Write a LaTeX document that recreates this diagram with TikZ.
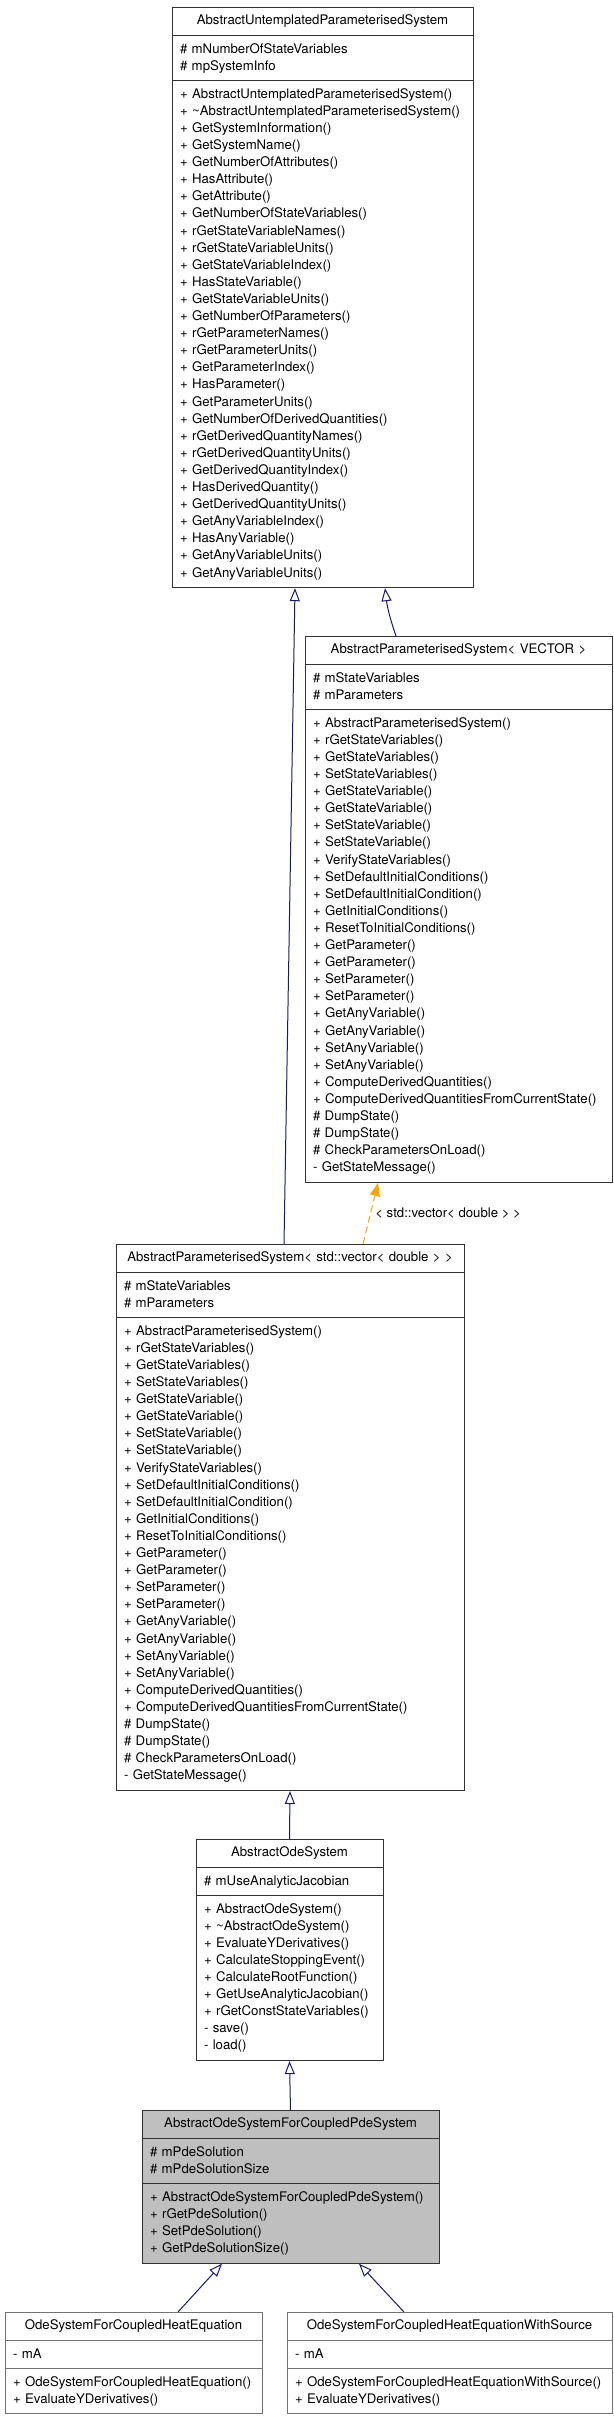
\documentclass[tikz,border=0pt]{standalone}
\usepackage{fontspec}
\setmainfont{TeX Gyre Heros}
\usetikzlibrary{shapes.multipart,arrows.meta}

\definecolor{edgeblue}{HTML}{191970}
\definecolor{tplorange}{HTML}{FFA500}
\definecolor{boxgray}{HTML}{BFBFBF}
\newcommand{\umlfont}{\fontsize{13.2}{17.1}\selectfont\hyphenpenalty=10000\exhyphenpenalty=10000}
\newcommand{\clstitle}[1]{\hbox to\hsize{\hfil\strut #1\strut\hfil}}

\tikzset{
	cls/.style={rectangle split, rectangle split parts=3, draw=black!80, line width=1pt,
		inner xsep=8pt, inner ysep=5pt, align=left, font=\umlfont, anchor=north},
	inh/.style={draw=edgeblue, line width=1pt, -{Triangle[open, length=13pt, width=10pt]}},
	tpl/.style={draw=tplorange, line width=1pt, dash pattern=on 7pt off 4pt, -{Triangle[length=13pt, width=10pt]}}
}

\begin{document}
\begin{tikzpicture}[x=1pt, y=-1pt]
	\useasboundingbox (0,0) rectangle (613,2419);
	
	\node[cls, text width=285pt] (aups) at (322.5,7) {\clstitle{AbstractUntemplatedParameterisedSystem}
	\nodepart{two}\strut\# mNumberOfStateVariables\\\# mpSystemInfo\strut
	\nodepart{three}\strut + AbstractUntemplatedParameterisedSystem()\\
	+ \textasciitilde AbstractUntemplatedParameterisedSystem()\\
	+ GetSystemInformation()\\
	+ GetSystemName()\\
	+ GetNumberOfAttributes()\\
	+ HasAttribute()\\
	+ GetAttribute()\\
	+ GetNumberOfStateVariables()\\
	+ rGetStateVariableNames()\\
	+ rGetStateVariableUnits()\\
	+ GetStateVariableIndex()\\
	+ HasStateVariable()\\
	+ GetStateVariableUnits()\\
	+ GetNumberOfParameters()\\
	+ rGetParameterNames()\\
	+ rGetParameterUnits()\\
	+ GetParameterIndex()\\
	+ HasParameter()\\
	+ GetParameterUnits()\\
	+ GetNumberOfDerivedQuantities()\\
	+ rGetDerivedQuantityNames()\\
	+ rGetDerivedQuantityUnits()\\
	+ GetDerivedQuantityIndex()\\
	+ HasDerivedQuantity()\\
	+ GetDerivedQuantityUnits()\\
	+ GetAnyVariableIndex()\\
	+ HasAnyVariable()\\
	+ GetAnyVariableUnits()\\
	+ GetAnyVariableUnits()\strut};
	
	\node[cls, text width=291pt] (apsv) at (458.5,636) {\clstitle{AbstractParameterisedSystem< VECTOR >}
	\nodepart{two}\strut\# mStateVariables\\\# mParameters\strut
	\nodepart{three}\strut + AbstractParameterisedSystem()\\
	+ rGetStateVariables()\\
	+ GetStateVariables()\\
	+ SetStateVariables()\\
	+ GetStateVariable()\\
	+ GetStateVariable()\\
	+ SetStateVariable()\\
	+ SetStateVariable()\\
	+ VerifyStateVariables()\\
	+ SetDefaultInitialConditions()\\
	+ SetDefaultInitialCondition()\\
	+ GetInitialConditions()\\
	+ ResetToInitialConditions()\\
	+ GetParameter()\\
	+ GetParameter()\\
	+ SetParameter()\\
	+ SetParameter()\\
	+ GetAnyVariable()\\
	+ GetAnyVariable()\\
	+ SetAnyVariable()\\
	+ SetAnyVariable()\\
	+ ComputeDerivedQuantities()\\
	+ ComputeDerivedQuantitiesFromCurrentState()\\
	\# DumpState()\\
	\# DumpState()\\
	\# CheckParametersOnLoad()\\
	- GetStateMessage()\strut};
	
	\node[cls, text width=332pt] (apsd) at (290,1244) {\clstitle{AbstractParameterisedSystem< std::vector< double > >}
	\nodepart{two}\strut\# mStateVariables\\\# mParameters\strut
	\nodepart{three}\strut + AbstractParameterisedSystem()\\
	+ rGetStateVariables()\\
	+ GetStateVariables()\\
	+ SetStateVariables()\\
	+ GetStateVariable()\\
	+ GetStateVariable()\\
	+ SetStateVariable()\\
	+ SetStateVariable()\\
	+ VerifyStateVariables()\\
	+ SetDefaultInitialConditions()\\
	+ SetDefaultInitialCondition()\\
	+ GetInitialConditions()\\
	+ ResetToInitialConditions()\\
	+ GetParameter()\\
	+ GetParameter()\\
	+ SetParameter()\\
	+ SetParameter()\\
	+ GetAnyVariable()\\
	+ GetAnyVariable()\\
	+ SetAnyVariable()\\
	+ SetAnyVariable()\\
	+ ComputeDerivedQuantities()\\
	+ ComputeDerivedQuantitiesFromCurrentState()\\
	\# DumpState()\\
	\# DumpState()\\
	\# CheckParametersOnLoad()\\
	- GetStateMessage()\strut};
	
	\node[cls, text width=171pt] (aos) at (289.5,1839) {\clstitle{AbstractOdeSystem}
	\nodepart{two}\strut\# mUseAnalyticJacobian\strut
	\nodepart{three}\strut + AbstractOdeSystem()\\
	+ \textasciitilde AbstractOdeSystem()\\
	+ EvaluateYDerivatives()\\
	+ CalculateStoppingEvent()\\
	+ CalculateRootFunction()\\
	+ GetUseAnalyticJacobian()\\
	+ rGetConstStateVariables()\\
	- save()\\
	- load()\strut};
	
	\node[cls, fill=boxgray, text width=281pt] (aoscp) at (290.5,2110) {\clstitle{AbstractOdeSystemForCoupledPdeSystem}
	\nodepart{two}\strut\# mPdeSolution\\\# mPdeSolutionSize\strut
	\nodepart{three}\strut + AbstractOdeSystemForCoupledPdeSystem()\\
	+ rGetPdeSolution()\\
	+ SetPdeSolution()\\
	+ GetPdeSolutionSize()\strut};
	
	\node[cls, draw=black!55, text width=241pt] (oshe) at (133.5,2312) {\clstitle{OdeSystemForCoupledHeatEquation}
	\nodepart{two}\strut - mA\strut
	\nodepart{three}\strut + OdeSystemForCoupledHeatEquation()\\
	+ EvaluateYDerivatives()\strut};
	
	\node[cls, draw=black!55, text width=309pt] (oshews) at (449.5,2312) {\clstitle{OdeSystemForCoupledHeatEquationWithSource}
	\nodepart{two}\strut - mA\strut
	\nodepart{three}\strut + OdeSystemForCoupledHeatEquationWithSource()\\
	+ EvaluateYDerivatives()\strut};
	
	\draw[inh] ([xshift=-6]apsd.north) -- ([xshift=-27.5]aups.south);
	\draw[inh] ([xshift=-62.5]apsv.north) to[bend left=6] ([xshift=62.5]aups.south);
	\draw[tpl] ([xshift=73]apsd.north) -- ([xshift=-80.5]apsv.south)
		node[pos=0.5, anchor=west, font=\umlfont, xshift=1pt] {< std::vector< double > >};
	\draw[inh] (aos.north) -- (apsd.south);
	\draw[inh] (aoscp.north) -- (aos.south);
	\draw[inh] ([xshift=44.5]oshe.north) -- ([xshift=-68.5]aoscp.south);
	\draw[inh] ([xshift=-45.5]oshews.north) -- ([xshift=68.5]aoscp.south);
\end{tikzpicture}
\end{document}
